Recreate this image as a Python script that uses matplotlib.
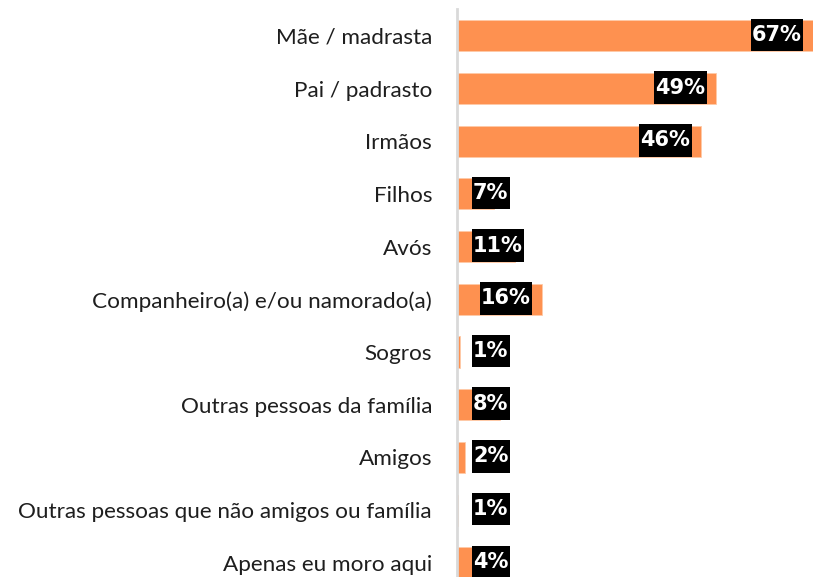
import matplotlib.pyplot as plt
from matplotlib.path import Path

categorias = ["Mãe / madrasta", "Pai / padrasto", "Irmãos", "Filhos", "Avós",
              "Companheiro(a) e/ou namorado(a)", "Sogros",
              "Outras pessoas da família", "Amigos",
              "Outras pessoas que não amigos ou família", "Apenas eu moro aqui"]
valores = [67, 48.8, 46, 7, 11, 16, 0.5, 8, 1.5, 0.2, 4]
rotulos = ["67%", "49%", "46%", "7%", "11%", "16%", "1%", "8%", "2%", "1%", "4%"]

plt.rcParams['font.family'] = ['Lato', 'DejaVu Sans']


def caixa_alta(x0, y0, w, h, mutation_size):
    # caixa retangular com mais folga em cima e embaixo
    px = 0.06 * mutation_size
    py = 0.3 * mutation_size
    x0, y0, x1, y1 = x0 - px, y0 - py, x0 + w + px, y0 + h + py
    return Path([(x0, y0), (x1, y0), (x1, y1), (x0, y1), (x0, y0)], closed=True)


fig = plt.figure(figsize=(8.13, 5.77), dpi=100)
ax = fig.add_axes([457 / 813, 0, 356 / 813, 1 - 9 / 577])

pos = list(range(len(categorias)))
ax.barh(pos, valores, height=0.59, color='#fe9150', edgecolor='#ffcaa8', linewidth=0.6)

ax.set_xlim(0, 67)
ax.set_ylim(10.27, -0.51)
ax.set_yticks(pos)
ax.set_yticklabels(categorias, fontsize=16.2, color='#1e1e1e')
ax.tick_params(axis='y', length=0, pad=18)
ax.set_xticks([])

for s in ['top', 'right', 'bottom']:
    ax.spines[s].set_visible(False)
ax.spines['left'].set_color('#d9d9d9')
ax.spines['left'].set_linewidth(2)

# rotulo dentro da barra se couber, senao encostado no eixo
caixa = dict(boxstyle=caixa_alta, fc='black', ec='none')
for y, v, r in zip(pos, valores, rotulos):
    if v >= 15:
        ax.annotate(r, xy=(v, y), xytext=(-11, 1), textcoords='offset pixels',
                    ha='right', va='center', color='white', fontsize=15,
                    fontweight='bold', family='DejaVu Sans', bbox=caixa)
    else:
        ax.annotate(r, xy=(0, y), xytext=(16, 1), textcoords='offset pixels',
                    ha='left', va='center', color='white', fontsize=15,
                    fontweight='bold', family='DejaVu Sans', bbox=caixa)

fig.savefig('out.png', dpi=100)
